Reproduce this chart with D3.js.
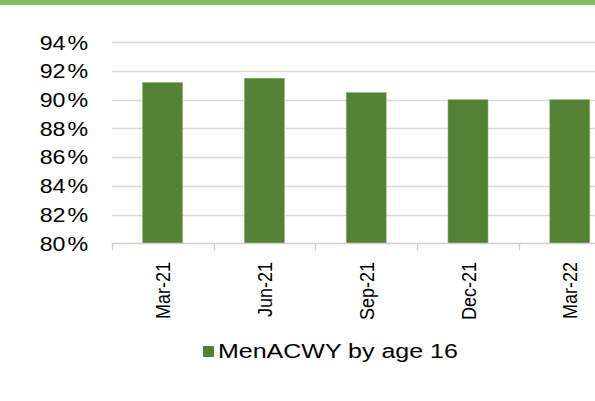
<!DOCTYPE html>
<html>
<head>
<meta charset="utf-8">
<script src="https://cdn.jsdelivr.net/npm/d3@7/dist/d3.min.js"></script>
<style>
  html, body { margin: 0; padding: 0; background: #fff; }
  svg { display: block; }
  text { font-family: Arial, "Liberation Sans", sans-serif; fill: #000; }
</style>
</head>
<body>
<svg id="chart" width="595" height="401"></svg>
<script>
// Quarterly coverage, MenACWY by age 16
const categories = ["Mar-21", "Jun-21", "Sep-21", "Dec-21", "Mar-22"];
const coverage = [91.2, 91.5, 90.5, 90.0, 90.0];
const yTicks = [80, 82, 84, 86, 88, 90, 92, 94];
const seriesName = "MenACWY by age 16";

const svg = d3.select("#chart");
const W = 595, H = 401;

// header band
svg.append("rect").attr("x", 0).attr("y", 0).attr("width", W).attr("height", 5)
  .attr("fill", "#84bb5c");

const plotLeft = 111.7, plotRight = 620.7, plotTop = 42.3, plotBottom = 243.3;

const x = d3.scaleBand().domain(categories).range([plotLeft, plotRight])
  .paddingInner(0.607).paddingOuter(0.3035);
const y = d3.scaleLinear().domain([80, 94]).range([plotBottom, plotTop]);

// horizontal gridlines
svg.append("g").selectAll("line").data(yTicks.filter(t => t > 80)).join("line")
  .attr("x1", plotLeft).attr("x2", W)
  .attr("y1", d => Math.round(y(d)) + 0.5).attr("y2", d => Math.round(y(d)) + 0.5)
  .attr("stroke", "#d9d9d9").attr("stroke-width", 1.3);

// bars
svg.append("g").selectAll("rect").data(coverage).join("rect")
  .attr("x", (d, i) => x(categories[i]))
  .attr("width", x.bandwidth())
  .attr("y", d => y(d))
  .attr("height", d => y(80) - y(d))
  .attr("fill", "#548235")
  .attr("stroke", "#8fb673").attr("stroke-width", 0.6);

// category axis with boundary ticks
const axisY = Math.round(y(80)) + 0.5;
svg.append("line").attr("x1", plotLeft).attr("x2", W)
  .attr("y1", axisY).attr("y2", axisY)
  .attr("stroke", "#d0d0d0").attr("stroke-width", 1.3);
const step = x.step();
const bounds = d3.range(categories.length + 1).map(i => plotLeft + i * step);
svg.append("g").selectAll("line").data(bounds).join("line")
  .attr("x1", d => Math.round(d) + 0.5).attr("x2", d => Math.round(d) + 0.5)
  .attr("y1", axisY).attr("y2", axisY + 7)
  .attr("stroke", "#d0d0d0").attr("stroke-width", 1.3);

// value axis labels, with a hair gap before the percent sign
svg.append("g").selectAll("text").data(yTicks).join("text")
  .attr("transform", d => `translate(88,${y(d)}) scale(1.16,1)`)
  .attr("dy", "0.36em")
  .attr("text-anchor", "end")
  .style("font-size", "20px")
  .text(d => d + "\u200A%");

// rotated category labels
svg.append("g").selectAll("text").data(categories).join("text")
  .attr("transform", d => `translate(${x(d) + x.bandwidth() / 2 + 7.5},262) scale(1.15,1) rotate(-90)`)
  .attr("text-anchor", "end")
  .style("font-size", "18px")
  .text(d => d);

// legend
const lg = svg.append("g").attr("transform", "translate(203,346)");
lg.append("rect").attr("width", 11).attr("height", 11).attr("fill", "#548235");
lg.append("text").attr("transform", "translate(15,12) scale(1.25,1)")
  .style("font-size", "20px").text(seriesName);
</script>
</body>
</html>
